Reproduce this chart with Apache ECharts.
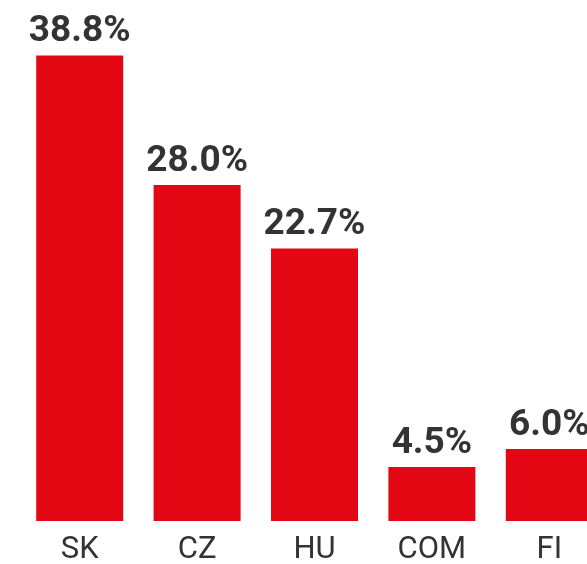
<!DOCTYPE html>
<html>
<head>
    <meta charset="UTF-8">
    <title>Share by country</title>
    <script src="https://cdn.jsdelivr.net/npm/echarts@6/dist/echarts.min.js" type="text/javascript"></script>
    <style>
        html, body { margin: 0; padding: 0; background: #fff; overflow: hidden; }
    </style>
</head>
<body>
<div id="chart" style="width:587px;height:564px"></div>
<script type="text/javascript">
    // categories and values (%)
    var countries = ['SK', 'CZ', 'HU', 'COM', 'FI'];
    var shares = [38.8, 28.0, 22.7, 4.5, 6.0];

    var myChart = echarts.init(document.getElementById('chart'));

    var option = {
        animation: false,
        grid: {
            left: 21,
            top: 41,
            right: -21,
            bottom: 43,
            outerBoundsMode: 'none'
        },
        xAxis: {
            type: 'category',
            data: countries,
            axisLine: { show: false },
            axisTick: { show: false },
            axisLabel: {
                color: '#333',
                fontFamily: 'Roboto',
                fontSize: 31,
                margin: 14
            }
        },
        yAxis: {
            type: 'value',
            min: 0,
            max: 40,
            show: false
        },
        series: [{
            type: 'bar',
            data: shares,
            barWidth: 87,
            itemStyle: { color: '#e30613' },
            label: {
                show: true,
                position: 'top',
                distance: 5,
                color: '#333',
                fontFamily: 'Roboto',
                fontWeight: 'bold',
                fontSize: 37,
                formatter: function (p) {
                    return p.value.toFixed(1) + '%';
                }
            }
        }]
    };
    myChart.setOption(option);
</script>
</body>
</html>
